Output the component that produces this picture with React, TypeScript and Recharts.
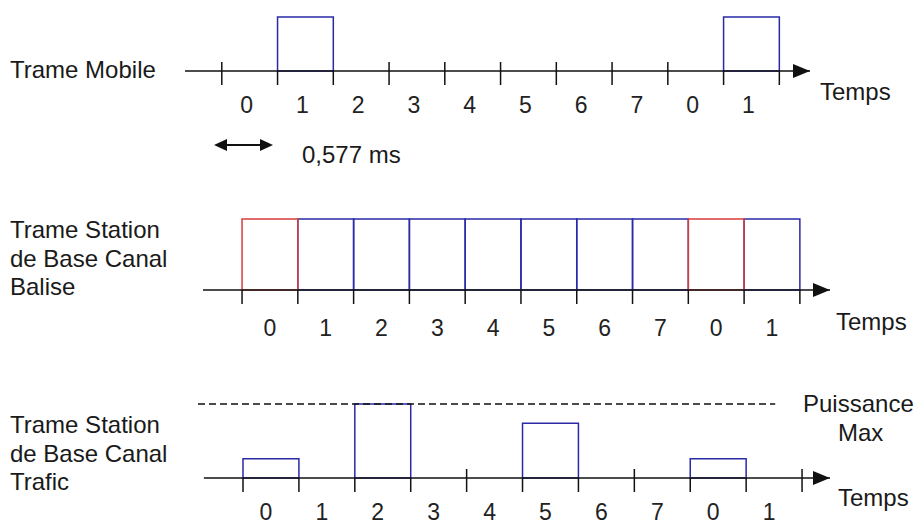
import React from 'react';
import { ComposedChart, XAxis, YAxis, ReferenceArea, ReferenceLine, ReferenceDot } from 'recharts';

// slot boundaries and labels (one GSM frame = 8 slots, plus 2 of the next)
const SLOT_EDGES = [0, 1, 2, 3, 4, 5, 6, 7, 8, 9, 10];
const SLOT_CENTERS = [0.5, 1.5, 2.5, 3.5, 4.5, 5.5, 6.5, 7.5, 8.5, 9.5];
const SLOT_LABELS = ['0', '1', '2', '3', '4', '5', '6', '7', '0', '1'];

// Trame Mobile: the mobile emits in slot 1 of each frame
const MOBILE_SLOTS = [1, 9];
const MOBILE_LEVEL = [1, 1];

// Trame Station de Base Canal Balise: every slot emitted, slot 0 = BCCH
const BEACON_SLOTS = [0, 1, 2, 3, 4, 5, 6, 7, 8, 9];
const BEACON_KIND = ['bcch', 'tch', 'tch', 'tch', 'tch', 'tch', 'tch', 'tch', 'bcch', 'tch'];

// Trame Station de Base Canal Trafic: power per active slot
const TRAFFIC_SLOTS = [0, 2, 5, 8];
const TRAFFIC_POWER = [0.26, 1, 0.74, 0.26];
const MAX_POWER = 1;

const FONT = '"Liberation Sans", Arial, sans-serif';
const BLUE = '#2a2aa8';
const RED = '#d63c3c';
const INK = '#111';

type Box = { slot: number; level: number; color: string };

type RowProps = {
  top: number;
  height: number;
  margin: { top: number; right: number; bottom: number; left: number };
  domain: [number, number];
  axisStart: number;
  boxes: Box[];
  labelDx: number;
  labelDy: number;
  maxLine?: [number, number];
};

const TimeRow = ({ top, height, margin, domain, axisStart, boxes, labelDx, labelDy, maxLine }: RowProps) => {
  const edges = new Set<number>();
  boxes.forEach((b) => {
    edges.add(b.slot);
    edges.add(b.slot + 1);
  });
  const data = SLOT_EDGES.map((x) => ({ x }));

  const tickMark = (props: any) => {
    const { x, y, payload } = props;
    const onBox = edges.has(payload.value);
    return (
      <line x1={x} x2={x} y1={onBox ? y : y - 9} y2={y + 14} stroke={INK} strokeWidth={1.5} />
    );
  };

  const tickLabel = (props: any) => {
    const { x, y, payload } = props;
    return (
      <text x={x + labelDx} y={y + labelDy} textAnchor="middle" fontSize={23} fontFamily={FONT} fill="#222">
        {SLOT_LABELS[Math.floor(payload.value)]}
      </text>
    );
  };

  const arrowHead = (props: any) => {
    const { cx, cy } = props;
    return <polygon points={`${cx},${cy} ${cx - 17},${cy - 7} ${cx - 17},${cy + 7}`} fill={INK} />;
  };

  return (
    <div style={{ position: 'absolute', left: 0, top, width: 918, height }}>
      <ComposedChart width={918} height={height} data={data} margin={margin}>
        <XAxis
          type="number"
          dataKey="x"
          domain={domain}
          allowDataOverflow
          ticks={SLOT_EDGES}
          interval={0}
          height={1}
          axisLine={false}
          tickLine={false}
          tickSize={0}
          tickMargin={0}
          tick={tickMark}
        />
        <XAxis
          xAxisId="lab"
          type="number"
          dataKey="x"
          domain={domain}
          allowDataOverflow
          ticks={SLOT_CENTERS}
          interval={0}
          height={1}
          axisLine={false}
          tickLine={false}
          tickSize={0}
          tickMargin={0}
          tick={tickLabel}
        />
        <YAxis type="number" domain={[0, MAX_POWER]} allowDataOverflow hide />
        {maxLine && (
          <ReferenceLine
            segment={[
              { x: maxLine[0], y: MAX_POWER },
              { x: maxLine[1], y: MAX_POWER },
            ]}
            stroke={INK}
            strokeWidth={1.3}
            strokeDasharray="7 4"
            ifOverflow="visible"
          />
        )}
        <ReferenceLine
          segment={[
            { x: axisStart, y: 0 },
            { x: domain[1], y: 0 },
          ]}
          stroke={INK}
          strokeWidth={1.5}
          ifOverflow="visible"
        />
        {boxes.map((b, i) => (
          <ReferenceArea
            key={i}
            x1={b.slot}
            x2={b.slot + 1}
            y1={0}
            y2={b.level}
            fill="none"
            fillOpacity={0}
            stroke={b.color}
            strokeWidth={1.5}
            ifOverflow="visible"
          />
        ))}
        <ReferenceDot x={domain[1]} y={0} r={0} shape={arrowHead} ifOverflow="visible" />
      </ComposedChart>
    </div>
  );
};

const Txt = ({ left, top, children }: { left: number; top: number; children: React.ReactNode }) => (
  <div
    style={{
      position: 'absolute',
      left,
      top,
      fontFamily: FONT,
      fontSize: 24,
      lineHeight: '28.5px',
      color: '#1a1a1a',
      whiteSpace: 'pre',
    }}
  >
    {children}
  </div>
);

export default function App() {
  const mobileBoxes = MOBILE_SLOTS.map((s, i) => ({ slot: s, level: MOBILE_LEVEL[i], color: BLUE }));
  const beaconBoxes = BEACON_SLOTS.map((s, i) => ({
    slot: s,
    level: 1,
    color: BEACON_KIND[i] === 'bcch' ? RED : BLUE,
  }));
  // draw the red ones last so their edges sit on top
  beaconBoxes.sort((a, b) => (a.color === RED ? 1 : 0) - (b.color === RED ? 1 : 0));
  const trafficBoxes = TRAFFIC_SLOTS.map((s, i) => ({ slot: s, level: TRAFFIC_POWER[i], color: BLUE }));

  return (
    <div style={{ position: 'absolute', left: 0, top: 0, width: 918, height: 524, background: '#fff', overflow: 'hidden' }}>
      <TimeRow
        top={0}
        height={130}
        margin={{ top: 17, right: 108, bottom: 57, left: 185 }}
        domain={[-0.66, 10.55]}
        axisStart={-0.66}
        boxes={mobileBoxes}
        labelDx={-3}
        labelDy={41}
      />
      <TimeRow
        top={160}
        height={200}
        margin={{ top: 59, right: 88, bottom: 68, left: 203 }}
        domain={[-0.7, 10.54]}
        axisStart={-0.7}
        boxes={beaconBoxes}
        labelDx={0}
        labelDy={45}
      />
      <TimeRow
        top={370}
        height={154}
        margin={{ top: 34, right: 88, bottom: 44, left: 198 }}
        domain={[-0.805, 10.5]}
        axisStart={-0.7}
        boxes={trafficBoxes}
        labelDx={-5}
        labelDy={41}
        maxLine={[-0.805, 9.52]}
      />

      <Txt left={10} top={56}>Trame Mobile</Txt>
      <Txt left={820} top={78}>Temps</Txt>
      <svg style={{ position: 'absolute', left: 210, top: 135 }} width={70} height={20}>
        <line x1={14} x2={50} y1={10} y2={10} stroke={INK} strokeWidth={2} />
        <polygon points="4,10 17,4 17,16" fill={INK} />
        <polygon points="63,10 50,4 50,16" fill={INK} />
      </svg>
      <Txt left={302} top={141}>0,577 ms</Txt>

      <Txt left={10} top={216}>{'Trame Station\nde Base Canal\nBalise'}</Txt>
      <Txt left={836} top={308}>Temps</Txt>

      <Txt left={10} top={411}>{'Trame Station\nde Base Canal\nTrafic'}</Txt>
      <Txt left={803} top={390}>Puissance</Txt>
      <Txt left={838} top={419}>Max</Txt>
      <Txt left={838} top={484}>Temps</Txt>
    </div>
  );
}
